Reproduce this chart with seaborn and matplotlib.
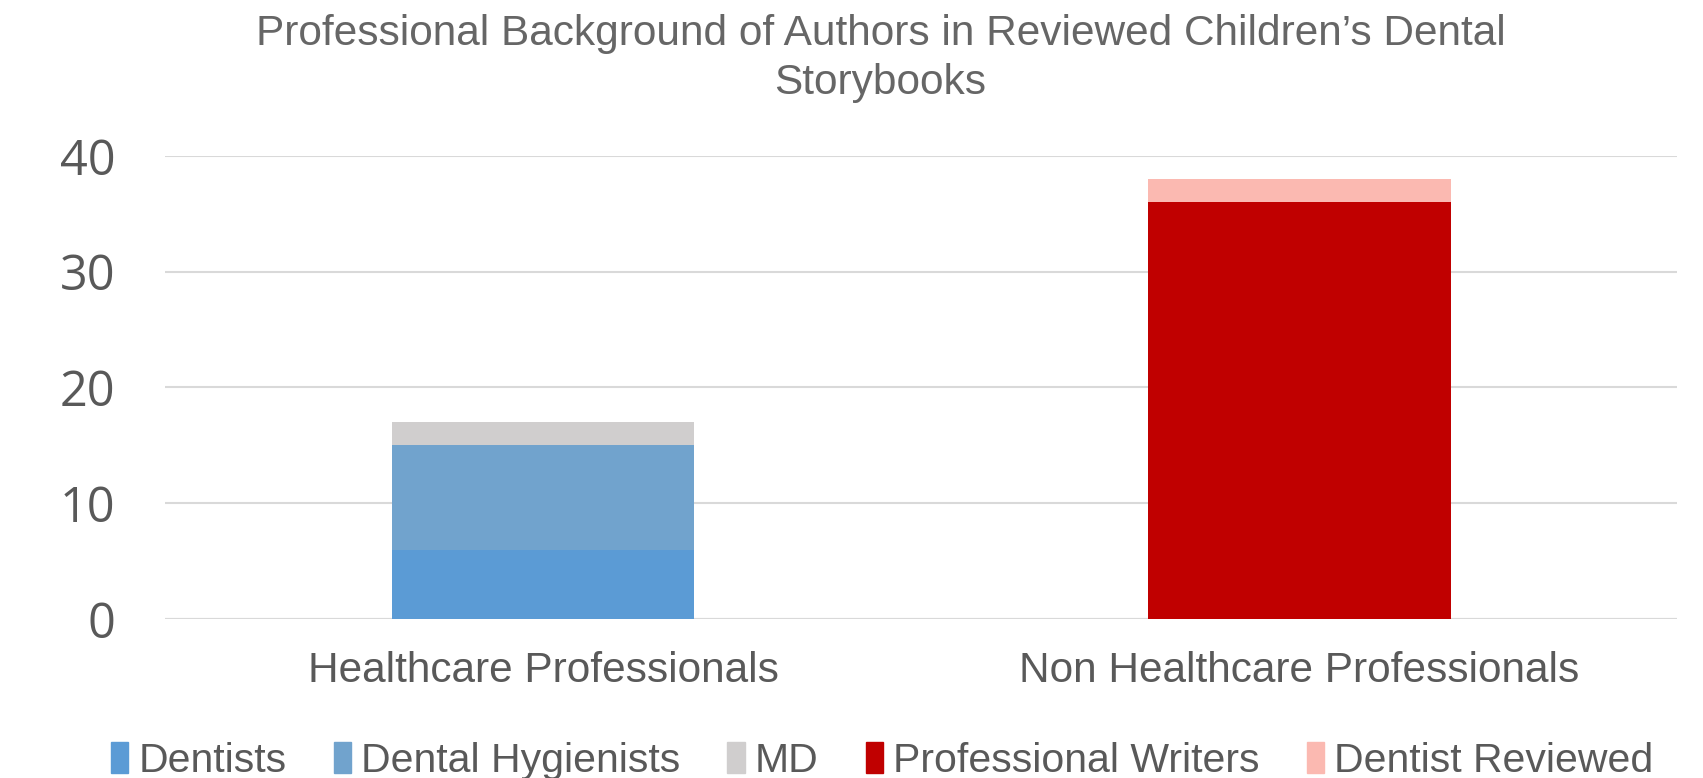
import numpy as np
import pandas as pd
import matplotlib
matplotlib.use('Agg')
import matplotlib.pyplot as plt
import matplotlib.patches as mpatches
import seaborn as sns

##################################################################
categories = ['Healthcare Professionals', 'Non Healthcare Professionals']
series = ['Dentists', 'Dental Hygienists', 'MD', 'Professional Writers', 'Dentist Reviewed']
dentists = [6, 0]
hygienists = [9, 0]
md = [2, 0]
writers = [0, 36]
reviewed = [0, 2]
colors = ['#5B9BD5', '#71A3CD', '#D0CECE', '#C00000', '#FBB9B1']
##################################################################

sns.set_theme(style='white')
plt.rcParams['font.family'] = ['Liberation Sans', 'DejaVu Sans']
grey = '#595959'

values = np.array([dentists, hygienists, md, writers, reviewed])
cum = np.cumsum(values, axis=0)

fig = plt.figure(figsize=(17.03, 7.78), dpi=100)
ax = fig.add_axes([0.097, 0.2044, 0.888, 0.5951])

# stacked bars: draw cumulative totals from top down
for i in range(len(series) - 1, -1, -1):
    df = pd.DataFrame({'Category': categories, 'Value': cum[i]})
    sns.barplot(data=df, x='Category', y='Value', color=colors[i], width=0.4,
                saturation=1, linewidth=0, ax=ax, zorder=2)

ax.set_xlim(-0.5, 1.5)
ax.set_ylim(0, 40)
ax.set_yticks([0, 10, 20, 30, 40])
ax.yaxis.grid(True, color='#D9D9D9', linewidth=1.5, zorder=0)
ax.set_axisbelow(True)
for s in ax.spines.values():
    s.set_visible(False)
ax.axhline(0, color='#D9D9D9', linewidth=1.5, zorder=1)
ax.set_xlabel('')
ax.set_ylabel('')
ax.tick_params(axis='y', length=0, pad=36, labelsize=35, labelcolor=grey)
ax.tick_params(axis='x', length=0, pad=23, labelsize=30.5, labelcolor=grey)
for lab in ax.get_yticklabels():
    lab.set_family(['Open Sans', 'DejaVu Sans'])

fig.suptitle('Professional Background of Authors in Reviewed Children\u2019s Dental\nStorybooks',
             x=0.517, y=0.982, fontsize=30.5, color='#666666', linespacing=1.3)

handles = [mpatches.Patch(color=c, label=s) for s, c in zip(series, colors)]
leg = fig.legend(handles=handles, loc='center', bbox_to_anchor=(0.518, 0.022), ncol=5,
                 frameon=False, handlelength=0.42, handleheight=0.8,
                 handletextpad=0.25, columnspacing=1.15,
                 prop={'family': ['Liberation Sans', 'DejaVu Sans'], 'size': 29.5})
for t in leg.get_texts():
    t.set_color(grey)

plt.savefig('out.png', dpi=100)
